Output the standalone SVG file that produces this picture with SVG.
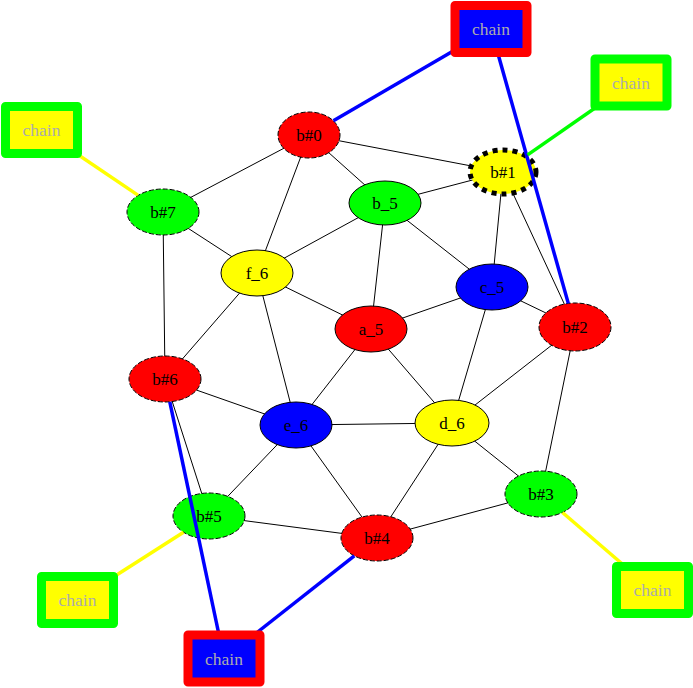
<svg xmlns="http://www.w3.org/2000/svg" width="693" height="688" viewBox="0 0 693 688">
<style>
.e{stroke:#000;stroke-width:1;fill:none}
.c{stroke-width:3.5;fill:none}
.n ellipse{stroke:#000;stroke-width:1}
.d ellipse{stroke-dasharray:5,2}
text{font-family:"Liberation Serif","Times New Roman",serif;font-size:17px;text-anchor:middle}
.n text{fill:#000}
.ch rect{stroke-width:9;stroke-linejoin:round}
.ch text{fill:#acacac;font-size:17.5px}
.R{fill:#ff0000}.G{fill:#00ff00}.B{fill:#0000ff}.Y{fill:#ffff00}
</style>
<rect width="693" height="688" fill="#fff"/>
<g id="edges">
<line class="e" x1="309" y1="135" x2="503" y2="172"/>
<line class="e" x1="309" y1="135" x2="163" y2="212"/>
<line class="e" x1="309" y1="135" x2="385" y2="203"/>
<line class="e" x1="309" y1="135" x2="257" y2="273"/>
<line class="e" x1="503" y1="172" x2="385" y2="203"/>
<line class="e" x1="503" y1="172" x2="492" y2="287"/>
<line class="e" x1="503" y1="172" x2="575" y2="327"/>
<line class="e" x1="385" y1="203" x2="257" y2="273"/>
<line class="e" x1="385" y1="203" x2="371" y2="329"/>
<line class="e" x1="385" y1="203" x2="492" y2="287"/>
<line class="e" x1="163" y1="212" x2="257" y2="273"/>
<line class="e" x1="163" y1="212" x2="165" y2="379"/>
<line class="e" x1="257" y1="273" x2="371" y2="329"/>
<line class="e" x1="257" y1="273" x2="165" y2="379"/>
<line class="e" x1="257" y1="273" x2="296" y2="425"/>
<line class="e" x1="492" y1="287" x2="371" y2="329"/>
<line class="e" x1="492" y1="287" x2="575" y2="327"/>
<line class="e" x1="492" y1="287" x2="452" y2="423"/>
<line class="e" x1="371" y1="329" x2="296" y2="425"/>
<line class="e" x1="371" y1="329" x2="452" y2="423"/>
<line class="e" x1="575" y1="327" x2="452" y2="423"/>
<line class="e" x1="575" y1="327" x2="541" y2="494"/>
<line class="e" x1="165" y1="379" x2="296" y2="425"/>
<line class="e" x1="165" y1="379" x2="209" y2="516"/>
<line class="e" x1="296" y1="425" x2="452" y2="423"/>
<line class="e" x1="296" y1="425" x2="209" y2="516"/>
<line class="e" x1="296" y1="425" x2="377" y2="538"/>
<line class="e" x1="452" y1="423" x2="377" y2="538"/>
<line class="e" x1="452" y1="423" x2="541" y2="494"/>
<line class="e" x1="209" y1="516" x2="377" y2="538"/>
<line class="e" x1="377" y1="538" x2="541" y2="494"/>
</g>
<g id="b0" class="n d"><ellipse class="R" cx="309" cy="135" rx="31" ry="23"/><text x="309" y="141">b#0</text></g>
<g id="b1" class="n"><ellipse class="Y" cx="503" cy="172" rx="33" ry="22" style="stroke-width:5;stroke-dasharray:5,5"/><text x="503" y="178">b#1</text></g>
<g id="b_5" class="n"><ellipse class="G" cx="385" cy="203" rx="36" ry="22"/><text x="385" y="209">b_5</text></g>
<g id="b7" class="n d"><ellipse class="G" cx="163" cy="212" rx="36" ry="23"/><text x="163" y="218">b#7</text></g>
<g id="f_6" class="n"><ellipse class="Y" cx="257" cy="273" rx="36" ry="23"/><text x="257" y="279">f_6</text></g>
<g id="c_5" class="n"><ellipse class="B" cx="492" cy="287" rx="36" ry="23"/><text x="492" y="293">c_5</text></g>
<g id="a_5" class="n"><ellipse class="R" cx="371" cy="329" rx="36" ry="23"/><text x="371" y="335">a_5</text></g>
<g id="b2" class="n d"><ellipse class="R" cx="575" cy="327" rx="36" ry="24"/><text x="575" y="333">b#2</text></g>
<g id="b6" class="n d"><ellipse class="R" cx="165" cy="379" rx="36" ry="23"/><text x="165" y="385">b#6</text></g>
<g id="e_6" class="n"><ellipse class="B" cx="296" cy="425" rx="36" ry="23"/><text x="296" y="431">e_6</text></g>
<g id="d_6" class="n"><ellipse class="Y" cx="452" cy="423" rx="37" ry="23"/><text x="452" y="429">d_6</text></g>
<g id="b3" class="n d"><ellipse class="G" cx="541" cy="494" rx="36" ry="23"/><text x="541" y="500">b#3</text></g>
<g id="b5" class="n d"><ellipse class="G" cx="209" cy="516" rx="36" ry="23"/><text x="209" y="522">b#5</text></g>
<g id="b4" class="n d"><ellipse class="R" cx="377" cy="538" rx="36" ry="23"/><text x="377" y="544">b#4</text></g>
<g id="chain-edges">
<line class="c" stroke="#0000ff" x1="491" y1="29" x2="333.4" y2="120.8"/>
<line class="c" stroke="#0000ff" x1="491" y1="29" x2="568.3" y2="303.4"/>
<line class="c" stroke="#00ff00" x1="631" y1="83" x2="527.6" y2="154.9"/>
<line class="c" stroke="#ffff00" x1="41.5" y1="130" x2="137.9" y2="195.1"/>
<line class="c" stroke="#0000ff" x1="224" y1="658.5" x2="169.8" y2="401.8"/>
<line class="c" stroke="#0000ff" x1="224" y1="658.5" x2="354.3" y2="555.9"/>
<line class="c" stroke="#ffff00" x1="77.5" y1="600" x2="183.5" y2="532.2"/>
<line class="c" stroke="#ffff00" x1="652.5" y1="590" x2="562.5" y2="512.5"/>
</g>
<g id="chain1" class="ch"><rect x="455" y="5.5" width="72" height="47" fill="#0000ff" stroke="#ff0000"/><text x="491" y="35">chain</text></g>
<g id="chain2" class="ch"><rect x="595" y="59" width="72" height="47" fill="#ffff00" stroke="#00ff00"/><text x="631" y="88.5">chain</text></g>
<g id="chain3" class="ch"><rect x="5.5" y="106.5" width="72" height="47" fill="#ffff00" stroke="#00ff00"/><text x="41.5" y="136">chain</text></g>
<g id="chain4" class="ch"><rect x="41.5" y="576.5" width="72" height="47" fill="#ffff00" stroke="#00ff00"/><text x="77.5" y="606">chain</text></g>
<g id="chain5" class="ch"><rect x="616.5" y="566.5" width="72" height="47" fill="#ffff00" stroke="#00ff00"/><text x="652.5" y="596">chain</text></g>
<g id="chain6" class="ch"><rect x="188" y="635" width="72" height="47" fill="#0000ff" stroke="#ff0000"/><text x="224" y="664.5">chain</text></g>
</svg>
